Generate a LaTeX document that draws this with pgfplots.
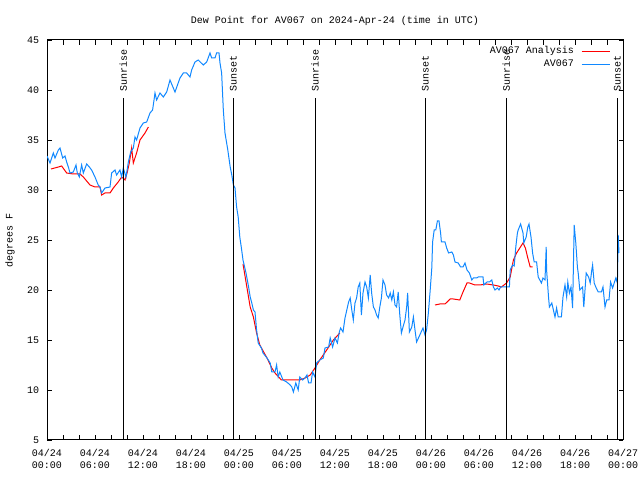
\documentclass[border=0pt]{standalone}
\usepackage{fontspec}
\setmainfont{Liberation Mono}
\usepackage{pgfplots}
\pgfplotsset{compat=1.18}
\definecolor{obsblue}{RGB}{16,136,255}
\begin{document}
\fontsize{10bp}{12.5bp}\selectfont
\begin{tikzpicture}
\begin{axis}[
  at={(47bp,40bp)}, anchor=south west,
  scale only axis, width=576bp, height=400bp,
  xmin=0, xmax=72, ymin=5, ymax=45,
  xtick={0,6,...,72}, minor xtick={0,2,...,72},
  xticklabels={{04/24\\00:00},{04/24\\06:00},{04/24\\12:00},{04/24\\18:00},{04/25\\00:00},{04/25\\06:00},{04/25\\12:00},{04/25\\18:00},{04/26\\00:00},{04/26\\06:00},{04/26\\12:00},{04/26\\18:00},{04/27\\00:00}},
  xticklabel style={align=center, font=\fontsize{10bp}{12bp}\selectfont, yshift=-5.5bp},
  ytick={5,10,...,45},
  yticklabel style={font=\fontsize{10bp}{12.5bp}\selectfont, xshift=-4.4bp},
  /pgf/number format/assume math mode=true,
  major tick length=4.5bp, minor tick length=4.5bp,
  tick style={black, line width=0.8bp},
  axis line style={line width=1bp},
  unbounded coords=jump,
  legend plot pos=right,
  legend image code/.code={\draw[#1] (0bp,0bp) -- (28bp,0bp);},
  legend style={draw=none, fill=none, inner sep=0pt, outer sep=0pt,
    at={(1,1)}, anchor=north east, xshift=-13bp, yshift=-7bp,
    row sep=4bp, column sep=7bp,
    font=\fontsize{10bp}{12.5bp}\selectfont,
    nodes={inner sep=0pt, text height=7bp, text depth=2bp},
    cells={anchor=east}},
]
\addplot[red, line width=1bp] table {
x y
0.5 32.1
1.42 32.3
1.83 32.4
2.46 31.7
3.29 31.6
4.125 31.6
4.54 31.3
5.375 30.5
6.0 30.3
6.625 30.3
6.83 29.5
7.25 29.7
7.875 29.7
8.29 30.2
8.9 30.8
9.33 31.3
9.75 31.0
10.04 31.8
10.29 32.7
10.58 34.2
10.79 32.7
11.2 33.7
11.625 35.0
12.25 35.7
12.67 36.3
13 nan
24.5 22.6
24.9 20.7
25.4 18.3
25.8 17.3
26.2 15.7
26.6 14.5
27.5 13.2
28.1 12.2
28.5 11.7
29.3 11.0
29.96 11.0
31.6 11.0
32.25 11.2
32.9 11.5
33.5 12.2
34.1 13.0
34.96 14.0
35.8 15.0
36.6 15.7
40 nan
48.5 18.5
49.1 18.6
49.75 18.6
50.4 19.1
50.8 19.1
51.6 19.0
52.0 19.8
52.5 20.7
52.8 20.7
53.5 20.5
54.1 20.5
54.95 20.6
55.8 20.5
56.4 20.4
56.8 20.3
57.45 20.7
57.9 21.3
58.3 23.0
58.7 23.7
59.1 24.2
59.5 24.7
59.8 24.2
60.1 23.2
60.4 22.3
60.7 22.3
};
\addlegendentry{AV067 Analysis}
\addplot[obsblue, line width=1bp] table {
x y
0 33.4
0.375 32.7
0.79 33.7
1.0 33.2
1.42 34.0
1.625 34.2
1.96 33.2
2.25 33.4
2.46 32.8
2.67 32.3
2.875 31.7
3.29 31.8
3.625 32.5
3.79 31.7
4.04 31.3
4.33 32.5
4.54 31.7
4.96 32.6
5.29 32.3
5.58 32.0
6.0 31.3
6.4 30.5
6.625 30.3
6.83 29.7
7.25 30.2
7.875 30.3
8.08 31.7
8.5 32.0
8.7 31.5
9.125 32.0
9.33 31.3
9.54 32.2
9.875 31.3
10.17 32.8
10.46 33.8
10.79 34.2
11.0 35.3
11.2 35.0
11.625 36.2
12.04 36.7
12.46 36.8
12.875 37.7
13.2 38.0
13.5 39.7
13.7 39.0
14.125 39.7
14.54 39.3
14.96 39.8
15.375 41.0
15.79 40.2
16.0 39.8
16.4 40.7
16.625 41.2
17.04 41.7
17.46 41.7
17.875 41.3
18.08 42.0
18.5 42.8
18.9 43.0
19.54 42.5
19.96 42.8
20.375 43.7
20.58 43.2
21.0 43.2
21.2 43.7
21.5 43.7
21.625 42.7
21.83 41.7
22.04 38.0
22.25 35.7
22.6 34.0
22.9 32.3
23.1 31.5
23.3 30.5
23.5 30.2
23.7 28.3
23.9 27.3
24.1 25.3
24.3 24.2
24.5 23.0
24.875 21.7
25.2 20.3
25.4 19.3
25.6 18.7
25.8 18.0
26.0 17.8
26.2 16.0
26.4 14.7
26.8 14.2
27.0 13.7
27.5 13.2
27.9 12.7
28.1 11.8
28.5 11.8
28.7 12.5
28.9 11.3
29.1 11.8
29.5 11.0
29.96 10.8
30.4 10.5
30.6 10.3
30.8 9.8
31.1 10.7
31.4 10.0
31.6 11.3
31.95 11.0
32.25 11.2
32.5 11.5
32.7 10.7
32.9 10.7
33.0 10.7
33.2 11.8
33.5 11.3
33.7 12.7
34.1 13.0
34.54 13.2
34.75 14.2
35.2 14.3
35.4 15.2
35.7 14.3
36.0 15.2
36.3 14.7
36.54 15.8
36.7 16.2
37.0 15.8
37.25 17.2
37.7 18.8
37.9 19.2
38.1 18.0
38.29 17.0
38.5 18.7
38.7 19.2
38.9 20.3
39.1 20.7
39.3 17.5
39.5 19.7
39.75 20.8
39.96 20.3
40.17 19.2
40.4 21.5
40.58 19.7
40.8 18.3
41.0 18.0
41.2 17.5
41.4 17.2
41.6 18.3
41.8 19.2
42.0 21.0
42.25 20.5
42.45 19.5
42.7 19.2
42.9 19.7
43.1 19.0
43.3 19.8
43.5 18.5
43.7 18.3
43.9 19.8
44.1 17.5
44.3 15.7
44.5 16.3
44.75 17.0
44.96 18.3
45.08 19.7
45.3 15.8
45.6 16.3
45.8 17.3
46.0 16.0
46.2 14.8
46.6 15.5
47.0 16.2
47.25 15.5
47.45 16.0
47.67 17.7
47.9 20.0
48.1 22.2
48.2 24.8
48.4 26.0
48.6 26.0
48.8 26.9
49.0 26.9
49.2 25.7
49.3 24.8
49.75 24.8
49.96 24.2
50.2 23.7
50.6 23.8
50.8 23.5
51.0 22.8
51.4 22.7
51.7 22.3
52.0 22.3
52.25 22.7
52.5 22.0
52.8 21.7
53.1 21.0
53.3 21.2
53.7 21.2
53.9 21.3
54.5 21.3
54.6 20.5
55.0 20.8
55.3 20.8
55.6 21.0
55.8 20.3
56.0 20.0
56.3 20.2
56.5 20.0
56.7 20.3
57.1 20.3
57.45 20.3
57.8 20.3
57.9 22.0
58.2 22.5
58.4 22.4
58.6 24.3
58.8 25.7
58.9 26.0
59.2 26.6
59.5 25.7
59.6 24.7
59.9 25.3
60.1 26.3
60.25 26.6
60.5 25.3
60.7 23.7
60.9 22.8
61.2 22.8
61.4 21.3
61.6 21.0
61.8 20.7
62.0 21.2
62.25 21.0
62.4 24.3
62.45 22.0
62.7 19.2
62.8 18.3
63.1 18.7
63.3 18.0
63.5 17.3
63.7 18.2
63.9 17.3
64.3 17.3
64.5 19.3
64.75 20.5
64.96 19.3
65.1 20.8
65.3 19.7
65.5 20.3
65.7 18.2
65.9 26.5
66.1 24.7
66.3 22.3
66.4 21.7
66.6 20.0
66.95 20.3
67.1 18.3
67.4 21.7
67.7 21.3
67.9 20.7
68.1 22.0
68.2 22.5
68.4 20.7
68.6 20.3
68.9 19.8
69.3 19.8
69.5 20.3
69.75 18.3
69.96 19.0
70.25 19.0
70.45 20.8
70.7 20.2
70.9 20.7
71.1 21.2
71.3 20.7
71.4 25.5
71.5 23.7
};
\addlegendentry{AV067}
\draw[black, line width=1bp] (axis cs:9.54,5) -- (axis cs:9.54,39.2);
\node[rotate=90, anchor=west, inner sep=0pt] at (axis cs:9.54,39.8) {Sunrise};
\draw[black, line width=1bp] (axis cs:23.3,5) -- (axis cs:23.3,39.2);
\node[rotate=90, anchor=west, inner sep=0pt] at (axis cs:23.3,39.8) {Sunset};
\draw[black, line width=1bp] (axis cs:33.5,5) -- (axis cs:33.5,39.2);
\node[rotate=90, anchor=west, inner sep=0pt] at (axis cs:33.5,39.8) {Sunrise};
\draw[black, line width=1bp] (axis cs:47.3,5) -- (axis cs:47.3,39.2);
\node[rotate=90, anchor=west, inner sep=0pt] at (axis cs:47.3,39.8) {Sunset};
\draw[black, line width=1bp] (axis cs:57.4,5) -- (axis cs:57.4,39.2);
\node[rotate=90, anchor=west, inner sep=0pt] at (axis cs:57.4,39.8) {Sunrise};
\draw[black, line width=1bp] (axis cs:71.3,5) -- (axis cs:71.3,39.2);
\node[rotate=90, anchor=west, inner sep=0pt] at (axis cs:71.3,39.8) {Sunset};
\end{axis}
\node[anchor=base] at (335bp,456bp) {Dew Point for AV067 on 2024-Apr-24 (time in UTC)};
\node[rotate=90] at (10bp,240bp) {degrees F};
\pgfresetboundingbox
\path[use as bounding box] (0,0) rectangle (640bp,480bp);
\end{tikzpicture}
\end{document}
